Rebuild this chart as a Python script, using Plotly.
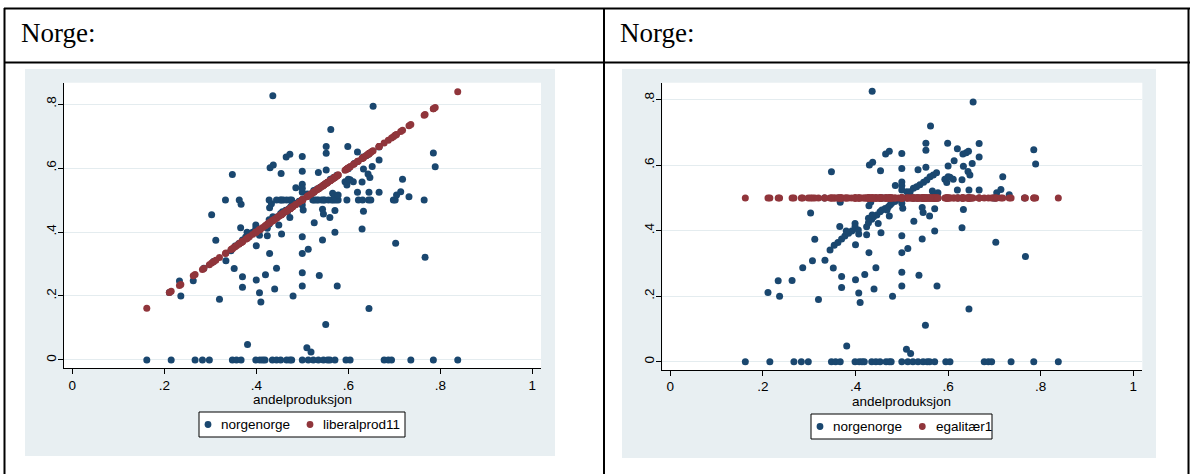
import plotly.graph_objects as go

# ---------------- data ----------------
andelproduksjon = [
    0.162, 0.215, 0.267, 0.283, 0.298, 0.348, 0.357, 0.367, 0.399, 0.408, 0.414, 0.419,
    0.435, 0.444, 0.453, 0.466, 0.473, 0.477, 0.500, 0.513, 0.524, 0.535, 0.546, 0.555,
    0.560, 0.571, 0.595, 0.604, 0.678, 0.687, 0.694, 0.736, 0.785, 0.838,
    0.381, 0.510, 0.519, 0.551, 0.645,
    0.211, 0.233, 0.236, 0.263, 0.286, 0.307, 0.320, 0.334, 0.352, 0.370, 0.370,
    0.400, 0.407, 0.410, 0.420, 0.440, 0.444, 0.480, 0.500, 0.500, 0.537, 0.576,
    0.312, 0.345, 0.354, 0.362, 0.370, 0.377, 0.385, 0.392, 0.380, 0.400, 0.407,
    0.424, 0.429, 0.455, 0.500, 0.500, 0.513, 0.544, 0.571, 0.703, 0.767, 0.399,
    0.303, 0.366, 0.367, 0.399, 0.406, 0.424, 0.428, 0.435, 0.439, 0.446, 0.453, 0.457,
    0.464, 0.471, 0.475, 0.478, 0.485, 0.493, 0.428, 0.436, 0.449, 0.473, 0.468,
    0.433, 0.429, 0.502, 0.500, 0.544, 0.546, 0.560, 0.571, 0.633, 0.630, 0.526,
    0.333, 0.363, 0.428, 0.444, 0.452, 0.455, 0.459, 0.466, 0.473, 0.477, 0.499,
    0.523, 0.526, 0.531, 0.535, 0.542, 0.546, 0.549, 0.557, 0.564, 0.568, 0.573,
    0.578, 0.597, 0.622, 0.631, 0.644, 0.649, 0.698, 0.702, 0.765,
    0.705, 0.732, 0.714,
    0.500, 0.511, 0.518, 0.525, 0.532, 0.539, 0.547, 0.554, 0.561, 0.568, 0.575,
    0.486, 0.500, 0.500, 0.593, 0.597, 0.600, 0.604, 0.611, 0.630, 0.643, 0.647,
    0.620, 0.645, 0.667, 0.718, 0.566, 0.570, 0.578, 0.348,
    0.454, 0.500, 0.535, 0.552, 0.600, 0.633, 0.652, 0.789,
    0.613, 0.430, 0.437, 0.465, 0.473, 0.500, 0.552, 0.552, 0.599, 0.620,
    0.632, 0.639, 0.644, 0.667, 0.667, 0.785, 0.562, 0.654, 0.436,
]

norgenorge = [
    0, 0, 0, 0, 0, 0, 0, 0, 0, 0, 0, 0,
    0, 0, 0, 0, 0, 0, 0, 0, 0, 0, 0, 0,
    0, 0, 0, 0, 0, 0, 0, 0, 0, 0,
    0.048, 0.038, 0.025, 0.111, 0.161,
    0.211, 0.247, 0.200, 0.248, 0.287, 0.308, 0.190, 0.310, 0.286, 0.260, 0.227,
    0.250, 0.210, 0.181, 0.266, 0.222, 0.287, 0.200, 0.273, 0.231, 0.264, 0.231,
    0.374, 0.341, 0.356, 0.364, 0.375, 0.384, 0.392, 0.399, 0.399, 0.357, 0.390,
    0.388, 0.333, 0.394, 0.333, 0.385, 0.346, 0.375, 0.399, 0.365, 0.321, 0.422,
    0.454, 0.413, 0.487, 0.412, 0.402, 0.412, 0.424, 0.435, 0.443, 0.448, 0.458, 0.463,
    0.468, 0.473, 0.479, 0.484, 0.489, 0.496, 0.438, 0.448, 0.422, 0.445, 0.463,
    0.488, 0.476, 0.469, 0.484, 0.471, 0.456, 0.445, 0.467, 0.465, 0.409, 0.429,
    0.5, 0.5, 0.5, 0.5, 0.5, 0.5, 0.5, 0.5, 0.5, 0.5, 0.5,
    0.5, 0.5, 0.5, 0.5, 0.5, 0.5, 0.5, 0.5, 0.5, 0.5, 0.5,
    0.5, 0.5, 0.5, 0.5, 0.5, 0.5, 0.5, 0.5, 0.5,
    0.516, 0.510, 0.526,
    0.524, 0.519, 0.519, 0.530, 0.534, 0.540, 0.548, 0.555, 0.565, 0.570, 0.577,
    0.538, 0.549, 0.537, 0.557, 0.547, 0.565, 0.563, 0.557, 0.556, 0.581, 0.570,
    0.524, 0.524, 0.524, 0.565, 0.521, 0.510, 0.516, 0.580,
    0.583, 0.590, 0.586, 0.594, 0.598, 0.597, 0.605, 0.604,
    0.614, 0.601, 0.609, 0.634, 0.643, 0.636, 0.646, 0.667, 0.667, 0.650,
    0.634, 0.638, 0.643, 0.625, 0.666, 0.647, 0.720, 0.793, 0.826,
]

liberalprod11 = [
    0.162, 0.215, 0.267, 0.283, 0.298, 0.348, 0.357, 0.367, 0.399, 0.408, 0.414, 0.419,
    0.435, 0.444, 0.453, 0.466, 0.473, 0.477, 0.500, 0.513, 0.524, 0.535, 0.546, 0.555,
    0.560, 0.571, 0.595, 0.604, 0.678, 0.687, 0.694, 0.736, 0.785, 0.838,
    0.381, 0.510, 0.519, 0.551, 0.645,
    0.211, 0.233, 0.236, 0.263, 0.286, 0.307, 0.320, 0.334, 0.352, 0.370, 0.370,
    0.400, 0.407, 0.410, 0.420, 0.440, 0.444, 0.480, 0.500, 0.500, 0.537, 0.576,
    0.312, 0.345, 0.354, 0.362, 0.370, 0.377, 0.385, 0.392, 0.380, 0.400, 0.407,
    0.424, 0.429, 0.455, 0.500, 0.500, 0.513, 0.544, 0.571, 0.703, 0.767, 0.399,
    0.303, 0.366, 0.367, 0.399, 0.406, 0.424, 0.428, 0.435, 0.439, 0.446, 0.453, 0.457,
    0.464, 0.471, 0.475, 0.478, 0.485, 0.493, 0.428, 0.436, 0.449, 0.473, 0.468,
    0.433, 0.429, 0.502, 0.500, 0.544, 0.546, 0.560, 0.571, 0.633, 0.630, 0.526,
    0.333, 0.363, 0.428, 0.444, 0.452, 0.455, 0.459, 0.466, 0.473, 0.477, 0.499,
    0.523, 0.526, 0.531, 0.535, 0.542, 0.546, 0.549, 0.557, 0.564, 0.568, 0.573,
    0.578, 0.597, 0.622, 0.631, 0.644, 0.649, 0.698, 0.702, 0.765,
    0.705, 0.732, 0.714,
    0.500, 0.511, 0.518, 0.525, 0.532, 0.539, 0.547, 0.554, 0.561, 0.568, 0.575,
    0.486, 0.500, 0.500, 0.593, 0.597, 0.600, 0.604, 0.611, 0.630, 0.643, 0.647,
    0.620, 0.645, 0.667, 0.718, 0.566, 0.570, 0.578, 0.348,
    0.454, 0.500, 0.535, 0.552, 0.600, 0.633, 0.652, 0.789,
    0.613, 0.430, 0.437, 0.465, 0.473, 0.500, 0.552, 0.552, 0.599, 0.620,
    0.632, 0.639, 0.644, 0.667, 0.667, 0.785, 0.562, 0.654, 0.436,
]

egalitaer1 = [
    0.5, 0.5, 0.5, 0.5, 0.5, 0.5, 0.5, 0.5, 0.5, 0.5, 0.5, 0.5, 0.5, 0.5, 0.5, 0.5,
    0.5, 0.5, 0.5, 0.5, 0.5, 0.5, 0.5, 0.5, 0.5, 0.5, 0.5, 0.5, 0.5, 0.5, 0.5, 0.5,
    0.5, 0.5, 0.5, 0.5, 0.5, 0.5, 0.5, 0.5, 0.5, 0.5, 0.5, 0.5, 0.5, 0.5, 0.5, 0.5,
    0.5, 0.5, 0.5, 0.5, 0.5, 0.5, 0.5, 0.5, 0.5, 0.5, 0.5, 0.5, 0.5, 0.5, 0.5, 0.5,
    0.5, 0.5, 0.5, 0.5, 0.5, 0.5, 0.5, 0.5, 0.5, 0.5, 0.5, 0.5, 0.5, 0.5, 0.5, 0.5,
    0.5, 0.5, 0.5, 0.5, 0.5, 0.5, 0.5, 0.5, 0.5, 0.5, 0.5, 0.5, 0.5, 0.5, 0.5, 0.5,
    0.5, 0.5, 0.5, 0.5, 0.5, 0.5, 0.5, 0.5, 0.5, 0.5, 0.5, 0.5, 0.5, 0.5, 0.5, 0.5,
    0.5, 0.5, 0.5, 0.5, 0.5, 0.5, 0.5, 0.5, 0.5, 0.5, 0.5, 0.5, 0.5, 0.5, 0.5, 0.5,
    0.5, 0.5, 0.5, 0.5, 0.5, 0.5, 0.5, 0.5, 0.5, 0.5, 0.5, 0.5, 0.5, 0.5, 0.5, 0.5,
    0.5, 0.5, 0.5, 0.5, 0.5, 0.5, 0.5, 0.5, 0.5, 0.5, 0.5, 0.5, 0.5, 0.5, 0.5, 0.5,
    0.5, 0.5, 0.5, 0.5, 0.5, 0.5, 0.5, 0.5, 0.5, 0.5, 0.5, 0.5, 0.5, 0.5, 0.5, 0.5,
    0.5, 0.5, 0.5, 0.5, 0.5, 0.5, 0.5, 0.5, 0.5, 0.5, 0.5, 0.5, 0.5, 0.5, 0.5, 0.5,
    0.5, 0.5, 0.5, 0.5, 0.5, 0.5, 0.5, 0.5, 0.5, 0.5, 0.5, 0.5, 0.5, 0.5, 0.5, 0.5,
]

x_ticks = [0, 0.2, 0.4, 0.6, 0.8, 1]
x_ticktext = ["0", ".2", ".4", ".6", ".8", "1"]
y_ticks = [0, 0.2, 0.4, 0.6, 0.8]
y_ticktext = ["0", ".2", ".4", ".6", ".8"]
header_text = "Norge:"
x_title = "andelproduksjon"
left_series = ["norgenorge", "liberalprod11"]
right_series = ["norgenorge", "egalitær1"]

# ---------------- styling ----------------
W, H = 1191, 474
BLUE = "#1a476f"
RED = "#90353b"
BG = "#e8eff2"
GRID = "#e4ecef"
SANS = "Liberation Sans, Arial, sans-serif"
SERIF = "Liberation Serif, Times New Roman, serif"
FS = 13.5


def fx(px):
    return px / W


def fy(py):
    return 1 - py / H


fig = go.Figure()

n = min(len(andelproduksjon), len(norgenorge))
mk = dict(size=7, line=dict(width=0))

fig.add_trace(go.Scatter(x=andelproduksjon[:n], y=norgenorge[:n], mode="markers",
                         name=left_series[0], marker=dict(color=BLUE, **mk),
                         xaxis="x", yaxis="y"))
fig.add_trace(go.Scatter(x=andelproduksjon[:len(liberalprod11)], y=liberalprod11, mode="markers",
                         name=left_series[1], marker=dict(color=RED, **mk),
                         xaxis="x", yaxis="y"))
fig.add_trace(go.Scatter(x=andelproduksjon[:n], y=norgenorge[:n], mode="markers",
                         name=right_series[0], marker=dict(color=BLUE, **mk),
                         xaxis="x2", yaxis="y2"))
m = min(len(andelproduksjon), len(egalitaer1))
fig.add_trace(go.Scatter(x=andelproduksjon[:m], y=egalitaer1[:m], mode="markers",
                         name=right_series[1], marker=dict(color=RED, **mk),
                         xaxis="x2", yaxis="y2"))

axis_common = dict(showline=True, linecolor="#000000", linewidth=1.2, ticks="outside",
                   ticklen=5, tickwidth=1, tickcolor="#000000", zeroline=False,
                   tickfont=dict(family=SANS, size=FS, color="#000000"),
                   fixedrange=True)

xaxis_common = dict(axis_common, tickvals=x_ticks, ticktext=x_ticktext, showgrid=False,
                    ticklabelstandoff=-1)
yaxis_common = dict(axis_common, tickvals=y_ticks, ticktext=y_ticktext, tickangle=-90,
                    ticklabelstandoff=-3,
                    showgrid=True, gridcolor=GRID, gridwidth=1)

L = dict(x0=64, x1=541, y0=82.7, y1=368.3)
R = dict(x0=662.3, x1=1142.3, y0=82.7, y1=370)

fig.update_layout(
    width=W, height=H,
    margin=dict(l=0, r=0, t=0, b=0),
    paper_bgcolor="#ffffff",
    plot_bgcolor="rgba(0,0,0,0)",
    xaxis=dict(xaxis_common, domain=[fx(L["x0"]), fx(L["x1"])], range=[-0.018, 1.019], anchor="y"),
    yaxis=dict(yaxis_common, domain=[fy(L["y1"]), fy(L["y0"])], range=[-0.026, 0.8666], anchor="x"),
    xaxis2=dict(xaxis_common, domain=[fx(R["x0"]), fx(R["x1"])], range=[-0.0173, 1.0194], anchor="y2"),
    yaxis2=dict(yaxis_common, domain=[fy(R["y1"]), fy(R["y0"])], range=[-0.0253, 0.852], anchor="x2"),
    showlegend=False,
)

shapes = []
# graph region backgrounds
shapes.append(dict(type="rect", xref="paper", yref="paper", layer="below",
                   x0=fx(25), x1=fx(555), y0=fy(456), y1=fy(69),
                   fillcolor=BG, line=dict(width=0)))
shapes.append(dict(type="rect", xref="paper", yref="paper", layer="below",
                   x0=fx(622), x1=fx(1156), y0=fy(458), y1=fy(69),
                   fillcolor=BG, line=dict(width=0)))
# plot regions (white)
for P in (L, R):
    shapes.append(dict(type="rect", xref="paper", yref="paper", layer="below",
                       x0=fx(P["x0"]), x1=fx(P["x1"]), y0=fy(P["y1"]), y1=fy(P["y0"]),
                       fillcolor="#ffffff", line=dict(width=0)))
# table borders
lw = 2
for (x0, y0, x1, y1) in [(4, 8.5, 1190, 8.5), (4, 62.5, 1190, 62.5),
                         (4.5, 8, 4.5, 474), (604, 8, 604, 474), (1188.5, 8, 1188.5, 474)]:
    shapes.append(dict(type="line", xref="paper", yref="paper",
                       x0=fx(x0), x1=fx(x1), y0=fy(y0), y1=fy(y1),
                       line=dict(color="#000000", width=lw)))

# legends (box + symbol + label), Stata style
legends = [
    dict(box=(199, 412, 405, 437), items=[(208, 219, BLUE, left_series[0]),
                                          (310, 321, RED, left_series[1])]),
    dict(box=(811, 414, 992, 439), items=[(820, 831.5, BLUE, right_series[0]),
                                          (922.3, 934, RED, right_series[1])]),
]
for lg in legends:
    bx0, by0, bx1, by1 = lg["box"]
    shapes.append(dict(type="rect", xref="paper", yref="paper",
                       x0=fx(bx0), x1=fx(bx1), y0=fy(by1), y1=fy(by0),
                       fillcolor="#ffffff", line=dict(color="#000000", width=1)))
    cy = (by0 + by1) / 2
    r = 3.4
    for (mx, tx, col, label) in lg["items"]:
        shapes.append(dict(type="circle", xref="paper", yref="paper",
                           x0=fx(mx - r), x1=fx(mx + r), y0=fy(cy + r), y1=fy(cy - r),
                           fillcolor=col, line=dict(width=0)))
        fig.add_annotation(text=label, xref="paper", yref="paper", x=fx(tx), y=fy(cy),
                           xanchor="left", yanchor="middle", showarrow=False,
                           font=dict(family=SANS, size=FS, color="#000000"))

fig.update_layout(shapes=shapes)

for hx in (19, 618):
    fig.add_annotation(text=header_text, xref="paper", yref="paper", x=fx(hx), y=fy(33),
                       xanchor="left", yanchor="middle", showarrow=False,
                       font=dict(family=SERIF, size=27, color="#000000"))

# x-axis titles
for cx, cy in ((302, 399), (901.8, 401)):
    fig.add_annotation(text=x_title, xref="paper", yref="paper", x=fx(cx), y=fy(cy),
                       xanchor="center", yanchor="middle", showarrow=False,
                       font=dict(family=SANS, size=FS, color="#000000"))

fig.write_html("out.html", config={"displayModeBar": False},
               post_script="document.body.style.margin='0';document.body.style.overflow='hidden';")
